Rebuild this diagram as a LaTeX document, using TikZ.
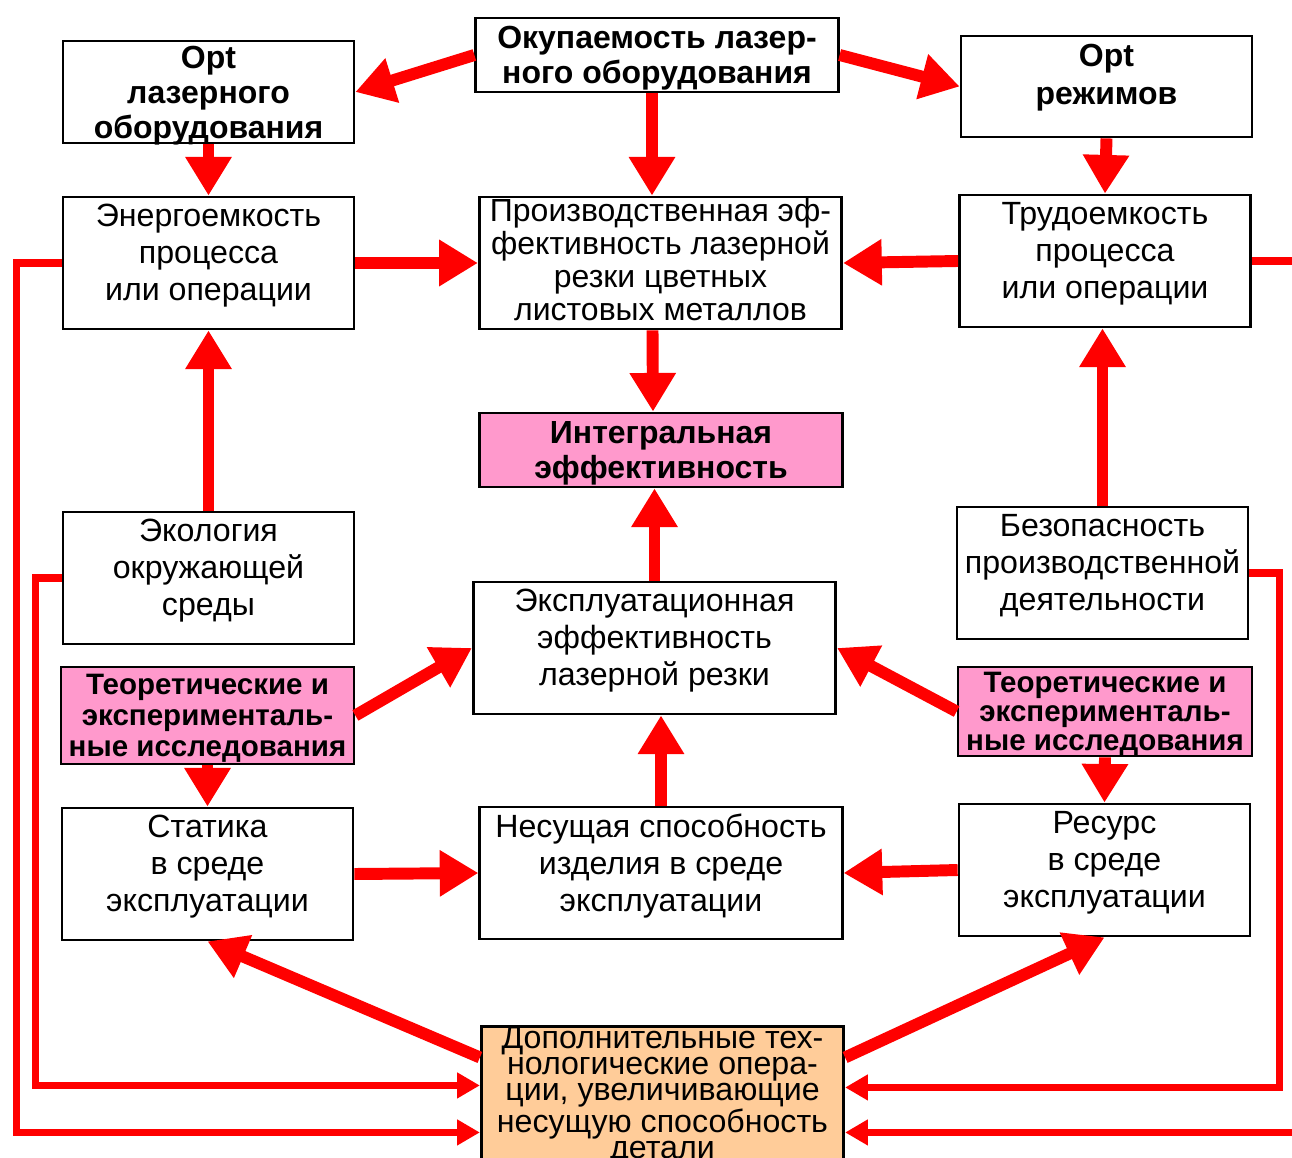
\documentclass[tikz,border=0pt]{standalone}
\usepackage{fontspec}
\setmainfont{Liberation Sans}
\usetikzlibrary{arrows.meta,calc}

\definecolor{boxpink}{HTML}{FF99CC}
\definecolor{boxorange}{HTML}{FFCC99}

\tikzset{
  box/.style={draw, line width=1.6pt, fill=white, align=center, inner sep=0pt,
    font=\fontsize{18.3pt}{21pt}\selectfont, text depth=12pt},
  hbox/.style={box, font=\bfseries\fontsize{18.2pt}{20pt}\selectfont, text depth=0pt},
  narrow/.style={minimum width=5.82cm},
  wide/.style={minimum width=7.25cm},
  flow/.style={red, line width=6.8pt, -{Triangle[length=22pt,width=25pt]}},
  feedback/.style={red, line width=4pt, -{Triangle[length=13pt,width=14pt]}}
}

\begin{document}
\begin{tikzpicture}[x=0.02cm, y=-0.02cm]
\useasboundingbox (0,0) rectangle (1292,1158);

% top row
\node[hbox, wide, minimum height=1.48cm] (okup) at (657,55) {Окупаемость лазер-\\ного оборудования};
\node[hbox, narrow, minimum height=2.04cm] (optl) at (208.5,92) {Opt\\лазерного\\оборудования};
\node[hbox, narrow, minimum height=2.02cm, text depth=14pt, font=\bfseries\fontsize{18.2pt}{22pt}\selectfont] (optr) at (1106.5,86.5) {Opt\\режимов};

% second row
\node[box, narrow, minimum height=2.64cm] (energo) at (208.5,263) {Энергоемкость\\ процесса\\или операции};
\node[box, wide, minimum height=2.64cm, text depth=4pt, font=\fontsize{18.2pt}{18.7pt}\selectfont] (proizv) at (660.5,263)
  {Производственная эф-\\фективность лазерной\\резки цветных\\листовых металлов};
\node[box, narrow, minimum height=2.64cm] (trudo) at (1105,261) {Трудоемкость\\процесса\\или операции};

\node[hbox, wide, minimum height=1.48cm, fill=boxpink] (integr) at (661,450) {Интегральная\\эффективность};

% third row
\node[box, narrow, minimum height=2.64cm] (ekol) at (208.5,578) {Экология\\окружающей\\среды};
\node[box, wide, minimum height=2.64cm] (ekspl) at (654.5,648) {Эксплуатационная\\эффективность\\лазерной резки};
\node[box, narrow, minimum height=2.64cm] (bezop) at (1102.5,573) {Безопасность\\производственной\\деятельности};

\node[hbox, minimum width=5.86cm, minimum height=1.94cm, fill=boxpink, font=\bfseries\fontsize{16.8pt}{17.6pt}\selectfont] (teorl) at (207.5,715.5)
  {Теоретические и\\эксперименталь-\\ные исследования};
\node[hbox, minimum width=5.88cm, minimum height=1.78cm, fill=boxpink, font=\bfseries\fontsize{16.8pt}{16.5pt}\selectfont] (teorr) at (1105,711.5)
  {Теоретические и\\эксперименталь-\\ные исследования};

% fourth row
\node[box, narrow, minimum height=2.64cm] (statika) at (207.5,874) {Статика\\ в среде\\эксплуатации};
\node[box, wide, minimum height=2.64cm] (nesush) at (661,873) {Несущая способность\\изделия в среде\\ эксплуатации};
\node[box, narrow, minimum height=2.64cm] (resurs) at (1104.5,870) {Ресурс\\в среде\\эксплуатации};

\node[box, wide, minimum height=2.68cm, fill=boxorange, text depth=3.5pt, font=\fontsize{18.3pt}{14.8pt}\selectfont] (dop) at (662.5,1096)
  {Дополнительные тех-\\нологические опера-\\ции, увеличивающие\\несущую способность\\детали};

\coordinate (in1) at ($(dop.north west)+(0,60)$);
\coordinate (in2) at ($(dop.north west)+(0,107)$);
\coordinate (out1) at ($(dop.north east)+(0,62)$);
\coordinate (out2) at ($(dop.north east)+(0,107)$);

% main arrows
\draw[flow] (okup.west) -- (optl.east);
\draw[flow] (okup.east) -- (optr.west);
\draw[flow] ($(okup.south)+(-5,0)$) -- ($(okup.south |- proizv.north)+(-5,0)$);
\draw[flow] (optl.south) -- (energo.north);
\draw[flow] (optr.south) -- (trudo.north);
\draw[flow] (energo.east) -- (proizv.west);
\draw[flow] (trudo.west) -- (proizv.east);
\draw[flow] ($(proizv.south)+(-8,0)$) -- ($(integr.north)+(-8,0)$);
\draw[flow] (ekol.north) -- (energo.south);
\draw[flow] (bezop.north) -- (bezop.north |- trudo.south);
\draw[flow] (ekspl.north) -- (ekspl.north |- integr.south);
\draw[flow] (teorl.east) -- (ekspl.west);
\draw[flow] (teorr.west) -- (ekspl.east);
\draw[flow] (teorl.south) -- (statika.north);
\draw[flow] (teorr.south) -- (resurs.north);
\draw[flow] (nesush.north) -- (nesush.north |- ekspl.south);
\draw[flow] (statika.east) -- (nesush.west);
\draw[flow] (resurs.west) -- (nesush.east);
\draw[flow] ($(dop.north west)+(0,32)$) -- (statika.south);
\draw[flow] ($(dop.north east)+(0,32)$) -- (resurs.south);

% feedback lines
\draw[feedback] (energo.west) -- ++(-45,0) |- (in2);
\draw[feedback] (ekol.west) -- ++(-26,0) |- (in1);
\draw[feedback] (bezop.east) -- ++(30,0) |- (out1);
\draw[feedback] (trudo.east) -- ++(80,0) |- (out2);
\end{tikzpicture}
\end{document}
